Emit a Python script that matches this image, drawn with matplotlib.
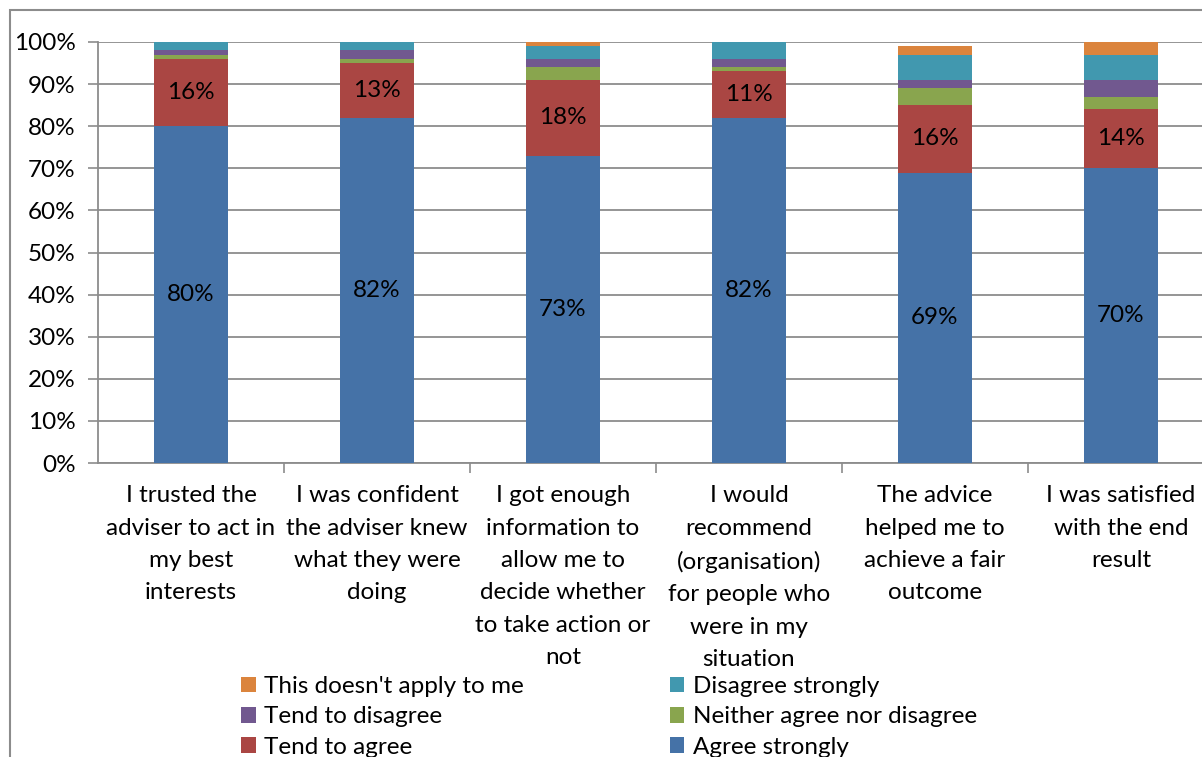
import numpy as np
import matplotlib.pyplot as plt
from matplotlib.patches import Rectangle

plt.rcParams['font.family'] = ['Lato', 'DejaVu Sans']

categories = [
    "I trusted the\nadviser to act in\nmy best\ninterests",
    "I was confident\nthe adviser knew\nwhat they were\ndoing",
    "I got enough\ninformation to\nallow me to\ndecide whether\nto take action or\nnot",
    "I would\nrecommend\n(organisation)\nfor people who\nwere in my\nsituation",
    "The advice\nhelped me to\nachieve a fair\noutcome",
    "I was satisfied\nwith the end\nresult",
]

# stacked from the bottom up
agree_strongly = [80, 82, 73, 82, 69, 70]
tend_to_agree = [16, 13, 18, 11, 16, 14]
neither = [1, 1, 3, 1, 4, 3]
tend_to_disagree = [1, 2, 2, 2, 2, 4]
disagree_strongly = [2, 2, 3, 4, 6, 6]
not_apply = [0, 0, 1, 0, 2, 3]

series = [
    ("Agree strongly", agree_strongly, "#4572A7"),
    ("Tend to agree", tend_to_agree, "#AA4643"),
    ("Neither agree nor disagree", neither, "#89A54E"),
    ("Tend to disagree", tend_to_disagree, "#71588F"),
    ("Disagree strongly", disagree_strongly, "#4198AF"),
    ("This doesn't apply to me", not_apply, "#DB843D"),
]

FS = 17.5
W, H = 1202, 757
fig = plt.figure(figsize=(W / 100, H / 100), dpi=100)
ax = fig.add_axes([98 / W, 1 - 463 / H, 1116 / W, 421 / H])

# outer chart frame
fig.patches.append(Rectangle((10 / W, -0.1), 1.2, 1 - 10 / H + 0.1,
                             transform=fig.transFigure, fill=False,
                             edgecolor="#8c8c8c", lw=1.5))

x = np.arange(len(categories))
bottom = np.zeros(len(categories))
handles = {}
for name, vals, col in series:
    vals = np.array(vals, dtype=float)
    b = ax.bar(x, vals, 0.4, bottom=bottom, color=col, zorder=3)
    handles[name] = b
    if name in ("Agree strongly", "Tend to agree"):
        for xi, v, b0 in zip(x, vals, bottom):
            ax.text(xi, b0 + v / 2, f"{int(v)}%", ha="center",
                    va="center", fontsize=FS, zorder=4)
    bottom += vals

ax.set_xlim(-0.5, 5.5)
ax.set_ylim(0, 100)
ax.set_yticks(np.arange(0, 101, 10))
ax.set_yticklabels([f"{v}%" for v in range(0, 101, 10)], fontsize=FS)
ax.set_xticks(x)
ax.set_xticklabels(categories, fontsize=FS, linespacing=1.67, va="top")
ax.set_xticks(np.arange(0.5, 5.5, 1), minor=True)
ax.tick_params(axis="x", which="major", length=0, pad=16)
ax.tick_params(axis="x", which="minor", length=7, width=1.2, color="#8c8c8c")
ax.tick_params(axis="y", length=7, width=1.2, color="#8c8c8c", pad=9)
ax.grid(axis="y", color="#8c8c8c", lw=1.3, zorder=0)
for s in ("top", "right"):
    ax.spines[s].set_visible(False)
for s in ("left", "bottom"):
    ax.spines[s].set_color("#8c8c8c")
    ax.spines[s].set_linewidth(1.3)

order = ["This doesn't apply to me", "Tend to disagree", "Tend to agree",
         "Disagree strongly", "Neither agree nor disagree", "Agree strongly"]
fig.legend([handles[n] for n in order], order, ncol=2, frameon=False,
           loc="upper left", bbox_to_anchor=(229 / W, 1 - 664 / H),
           fontsize=FS, handlelength=0.6, handleheight=0.6, handletextpad=0.35,
           columnspacing=6.0, labelspacing=0.38, borderpad=0)

fig.savefig("out.png", dpi=100)
